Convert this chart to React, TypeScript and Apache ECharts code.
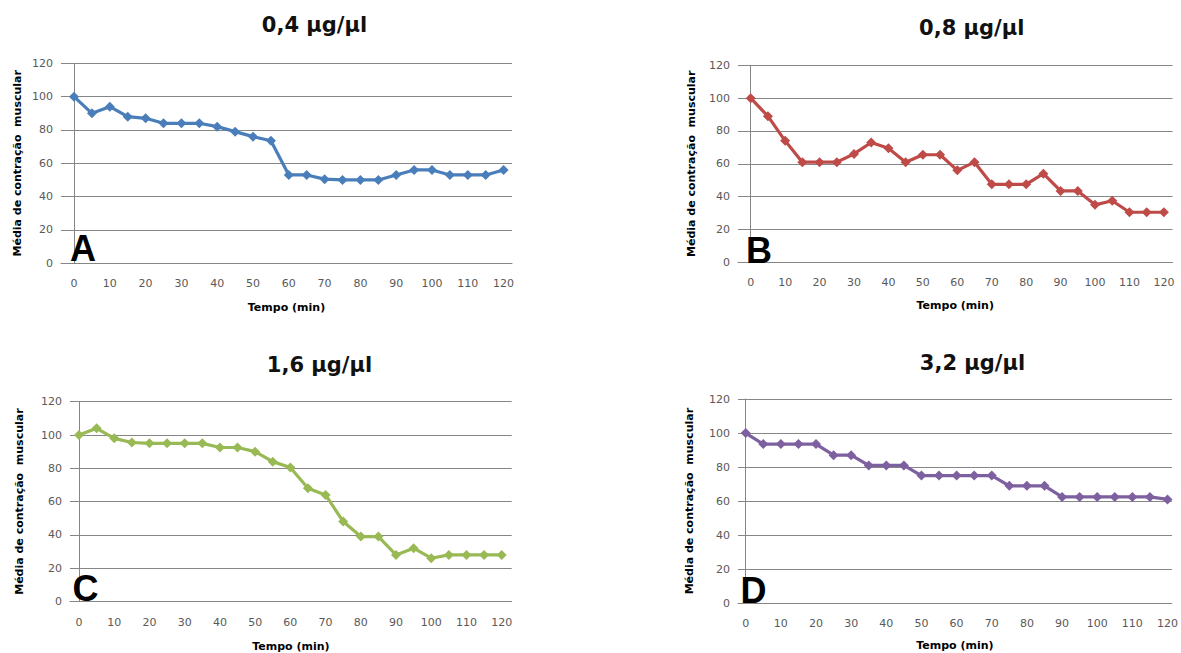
import React, { useEffect, useRef } from "react";
import * as echarts from "echarts";

// Time points (min)
const times = [0, 5, 10, 15, 20, 25, 30, 35, 40, 45, 50, 55, 60, 65, 70, 75, 80, 85, 90, 95, 100, 105, 110, 115, 120];
const xTickLabels = [0, 10, 20, 30, 40, 50, 60, 70, 80, 90, 100, 110, 120];

// Média de contração muscular per concentration
const seriesA = [100, 90, 94, 88, 87, 84, 84, 84, 82, 79, 76, 73.5, 53, 53, 50.5, 50, 50, 50, 53, 56, 56, 53, 53, 53, 56];
const seriesB = [100, 89, 74, 61, 61, 61, 66, 73, 69.5, 61, 65.5, 65.5, 56, 61, 47.5, 47.5, 47.5, 54, 43.5, 43.5, 35, 37.5, 30.5, 30.5, 30.5];
const seriesC = [100, 104, 98, 95.5, 95, 95, 95, 95, 92.5, 92.5, 90, 84, 80.5, 68, 64, 48, 39, 39, 28, 32, 26, 28, 28, 28, 28];
const seriesD = [100, 93.5, 93.5, 93.5, 93.5, 87, 87, 81, 81, 81, 75, 75, 75, 75, 75, 69, 69, 69, 62.5, 62.5, 62.5, 62.5, 62.5, 62.5, 61];

const titles = ["0,4 µg/µl", "0,8 µg/µl", "1,6 µg/µl", "3,2 µg/µl"];
const letters = ["A", "B", "C", "D"];
const colors = ["#4A7EBB", "#BE4B48", "#98B954", "#7D60A0"];
const yName = "Média de contração  muscular";
const xName = "Tempo (min)";

export default function App() {
  const ref = useRef<HTMLDivElement>(null);
  useEffect(() => {
    if (!ref.current) return;
    const chart = echarts.init(ref.current, undefined, { renderer: "svg" });
    const allSeries = [seriesA, seriesB, seriesC, seriesD];

    const grids = [
      { left: 61, top: 63.3, width: 451, height: 200 },
      { left: 738, top: 65.3, width: 434.5, height: 197 },
      { left: 70, top: 401.7, width: 441.7, height: 200 },
      { left: 738, top: 399, width: 434.5, height: 204.3 },
    ];
    const xRanges = [
      [-3.64, 122.35],
      [-3.69, 122.5],
      [-2.56, 122.84],
      [-2.19, 121.25],
    ];
    const yNameGaps = [38, 41, 45, 43];
    const xNameGaps = [38.5, 37.5, 39.5, 37];
    const titlePos = [
      [314.5, 25],
      [971.7, 28],
      [319.5, 365],
      [972.5, 363],
    ];
    const letterPos = [
      [70, 248.5],
      [746, 250],
      [72.5, 588.5],
      [740.5, 590.5],
    ];

    const gray = "#868686";
    const labelColor = "#595959";

    const option: any = {
      animation: false,
      backgroundColor: "#ffffff",
      grid: grids.map((g) => ({ ...g, containLabel: false })),
      xAxis: grids.map((_, i) => ({
        type: "value",
        gridIndex: i,
        min: xRanges[i][0],
        max: xRanges[i][1],
        name: xName,
        nameLocation: "middle",
        nameGap: xNameGaps[i],
        nameTextStyle: { fontFamily: "DejaVu Sans", fontWeight: "bold", fontSize: 11, color: "#000000" },
        axisLine: { show: true, lineStyle: { color: gray, width: 1 } },
        axisTick: { show: false },
        splitLine: { show: false },
        axisLabel: {
          customValues: xTickLabels,
          fontFamily: "DejaVu Sans",
          fontSize: 11,
          color: labelColor,
          margin: 15,
        },
      })),
      yAxis: grids.map((_, i) => ({
        type: "value",
        gridIndex: i,
        min: 0,
        max: 120,
        interval: 20,
        name: yName,
        nameLocation: "middle",
        nameGap: yNameGaps[i],
        nameTextStyle: { fontFamily: "DejaVu Sans", fontWeight: "bold", fontSize: 11, color: "#000000" },
        axisLine: { show: true, lineStyle: { color: gray, width: 1 } },
        axisTick: { show: true, length: 5, lineStyle: { color: gray } },
        splitLine: { show: true, lineStyle: { color: gray, width: 1 } },
        axisLabel: {
          fontFamily: "DejaVu Sans",
          fontSize: 11,
          color: labelColor,
          margin: 8,
        },
      })),
      series: allSeries.map((vals, i) => ({
        type: "line",
        xAxisIndex: i,
        yAxisIndex: i,
        data: times.map((t, k) => [t, vals[k]]),
        symbol: "diamond",
        symbolSize: 10,
        showSymbol: true,
        lineStyle: { color: colors[i], width: 3.2 },
        itemStyle: { color: colors[i] },
        z: 3,
      })),
      graphic: [
        ...titles.map((t, i) => ({
          type: "text",
          x: titlePos[i][0],
          y: titlePos[i][1],
          style: {
            text: t,
            fontFamily: "DejaVu Sans",
            fontWeight: "bold",
            fontSize: 21,
            fill: "#111111",
            align: "center",
            verticalAlign: "middle",
          },
        })),
        ...letters.map((t, i) => ({
          type: "text",
          x: letterPos[i][0],
          y: letterPos[i][1],
          z: 10,
          style: {
            text: t,
            fontFamily: "Liberation Sans",
            fontWeight: "bold",
            fontSize: 36,
            fill: "#000000",
            align: "left",
            verticalAlign: "middle",
          },
        })),
      ],
    };
    chart.setOption(option);
    return () => chart.dispose();
  }, []);

  return (
    <div
      ref={ref}
      style={{ position: "fixed", left: 0, top: 0, width: 1181, height: 653, background: "#fff" }}
    />
  );
}
